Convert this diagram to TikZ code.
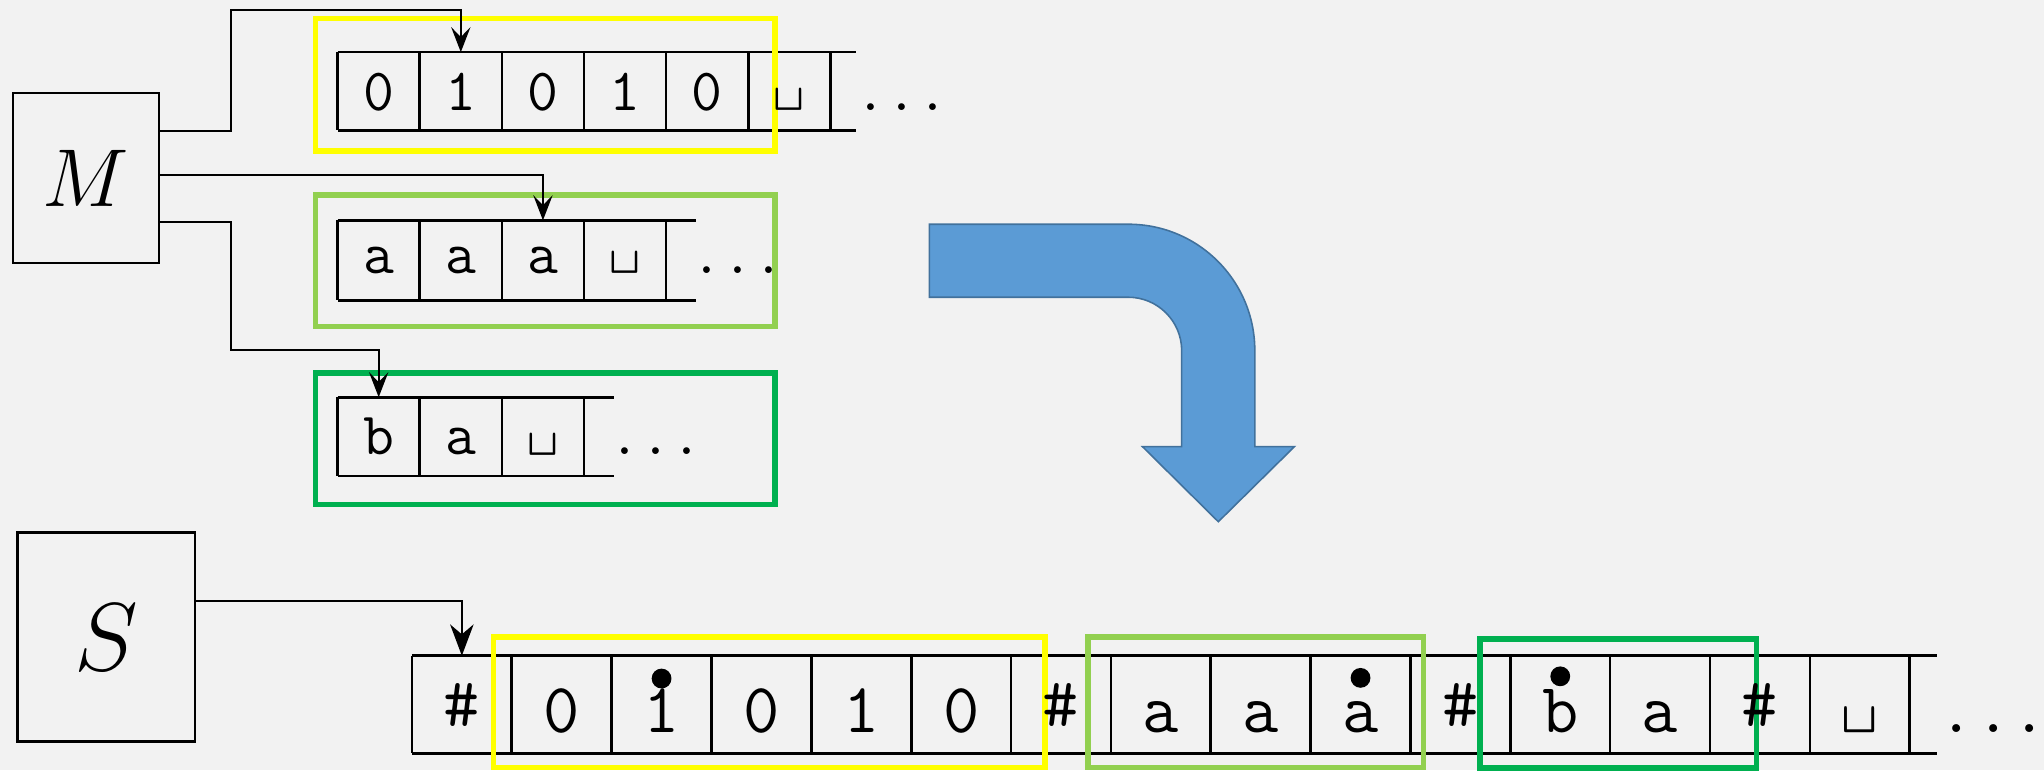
\RequirePackage{fix-cm}
\documentclass[tikz,border=0pt]{standalone}
\usepackage{fontspec}
\usetikzlibrary{arrows.meta}
\definecolor{bgc}{HTML}{F2F2F2}
\definecolor{yel}{HTML}{FFFF00}
\definecolor{lgr}{HTML}{92D050}
\definecolor{dgr}{HTML}{00B050}
\definecolor{bfill}{HTML}{5B9BD5}
\definecolor{bline}{HTML}{41719C}
\newcommand{\vsp}{\raisebox{0.13em}{\textvisiblespace}}
\begin{document}
\begin{tikzpicture}[x=0.5pt,y=-0.5pt,
  machine/.style={draw=black, line width=0.8pt, inner sep=0pt},
  conn/.style={line width=0.75pt, -{Stealth[length=9.6pt,width=7.4pt,inset=3.8pt]}},
  sconn/.style={line width=0.8pt, -{Stealth[length=12pt,width=9pt,inset=3.8pt]}},
  tline/.style={line width=1pt},
  btline/.style={line width=1.3pt},
  cell/.style={inner sep=0pt, anchor=base, font=\fontsize{23}{27}\selectfont\ttfamily},
  bcell/.style={inner sep=0pt, anchor=base, font=\fontsize{27}{32}\selectfont\ttfamily},
  hcell/.style={inner sep=0pt, anchor=center, font=\fontsize{27}{32}\selectfont\ttfamily},
  grp/.style={line width=2.1pt},
  headdot/.style={fill=black},
  bigarrow/.style={fill=bfill, draw=bline, line width=0.6pt, line join=miter}
]
\fill[bgc] (0,0) rectangle (1568,591);
\useasboundingbox (0,0) rectangle (1568,591);

% machines
\node[machine, minimum width=56pt, minimum height=65.5pt] (M) at (66,136.5) {\fontsize{31.5}{36}\selectfont$M$};
\node[machine, line width=1pt, minimum width=68pt, minimum height=80.3pt] (S) at (81.5,488.7) {\fontsize{37}{42}\selectfont$S$};

% tape 1
\foreach \x in {259,322,385,448,511,574,637} \draw[tline] (\x,40) -- (\x,100);
\draw[tline] (259,40) -- (657,40) (259,100) -- (657,100);
% tape 2
\foreach \x in {259,322,385,448,511} \draw[tline] (\x,169) -- (\x,230.5);
\draw[tline] (259,169) -- (534,169) (259,230.5) -- (534,230.5);
% tape 3
\foreach \x in {259,322,385,448} \draw[tline] (\x,304.7) -- (\x,365);
\draw[tline] (259,304.7) -- (471,304.7) (259,365) -- (471,365);
% bottom tape
\foreach \k in {0,...,15} \draw[tline] (316+76.6*\k,503) -- (316+76.6*\k,578);
\draw[btline] (316,503) -- (1486,503) (316,578) -- (1486,578);

% group boxes
\draw[grp, yel] (242,14) rectangle (594.4,115.7);
\draw[grp, lgr] (242,149.5) rectangle (594.4,250.5);
\draw[grp, dgr] (242,286.3) rectangle (594.4,386.8);
\draw[grp, yel] (378.5,488.8) rectangle (801.8,588.8);
\draw[grp, lgr] (834.8,488.5) rectangle (1092,588.8);
\draw[grp, dgr] (1135.4,490.3) rectangle (1347.3,589.2);

% tape 1 cells
\node[cell] (t1c1) at (290.5,84.4) {0};
\node[cell] (t1c2) at (353.5,84.4) {1};
\node[cell] (t1c3) at (416.5,84.4) {0};
\node[cell] (t1c4) at (479.5,84.4) {1};
\node[cell] (t1c5) at (542.5,84.4) {0};
\node[cell] (t1c6) at (605.5,84.4) {\vsp};
\node[cell] (t1d) at (691.7,84.4) {...};
% tape 2 cells
\node[cell] (t2c1) at (290.5,209.7) {a};
\node[cell] (t2c2) at (353.5,209.7) {a};
\node[cell] (t2c3) at (416.5,209.7) {a};
\node[cell] (t2c4) at (479.5,209.7) {\vsp};
\node[cell] (t2d) at (566,209.7) {...};
% tape 3 cells
\node[cell] (t3c1) at (290.5,349) {b};
\node[cell] (t3c2) at (353.5,349) {a};
\node[cell] (t3c3) at (416.5,349) {\vsp};
\node[cell] (t3d) at (503,349) {...};
% bottom tape cells
\node[hcell] (b1) at (354.3,540.5) {\#};
\node[bcell] (b2) at (430.9,561.8) {0};
\node[bcell] (b3) at (507.5,561.8) {1};
\node[bcell] (b4) at (584.1,561.8) {0};
\node[bcell] (b5) at (660.7,561.8) {1};
\node[bcell] (b6) at (737.3,561.8) {0};
\node[hcell] (b7) at (813.9,540.5) {\#};
\node[bcell] (b8) at (890.5,561.8) {a};
\node[bcell] (b9) at (967.1,561.8) {a};
\node[bcell] (b10) at (1043.7,561.8) {a};
\node[hcell] (b11) at (1120.3,540.5) {\#};
\node[bcell] (b12) at (1196.9,561.8) {b};
\node[bcell] (b13) at (1273.5,561.8) {a};
\node[hcell] (b14) at (1350.1,540.5) {\#};
\node[bcell] (b15) at (1426.7,561.8) {\vsp};
\node[bcell, anchor=base west] (bd) at (1487,561.8) {..\rlap{.}};
% head marks
\fill[headdot] (507.5,520.5) circle[radius=3.8pt];
\fill[headdot] (1043.7,520) circle[radius=3.8pt];
\fill[headdot] (1196.9,518.8) circle[radius=3.8pt];

% bent arrow
\draw[bigarrow] (713,172) -- (865.6,172)
  .. controls (919.2,172) and (962.6,215.4) .. (962.6,269)
  -- (962.6,342.6) -- (993,342.6) -- (934.6,400.2) -- (876.4,342.6) -- (906.5,342.6)
  -- (906.5,269)
  .. controls (906.5,246.4) and (888.1,228) .. (865.5,228)
  -- (713,228) -- cycle;

% head connectors
\coordinate (h1) at (353.5,40);
\coordinate (h2) at (416.5,169);
\coordinate (h3) at (290.5,304.7);
\coordinate (hS) at (354.3,503);
\draw[conn] ([yshift=18pt]M.east) -| (177,8) -| (h1);
\draw[conn] ([yshift=1pt]M.east) -| (h2);
\draw[conn] ([yshift=-16.8pt]M.east) -| (177,268.5) -| (h3);
\draw[sconn] ([yshift=13.85pt]S.east) -| (hS);
\end{tikzpicture}
\end{document}
